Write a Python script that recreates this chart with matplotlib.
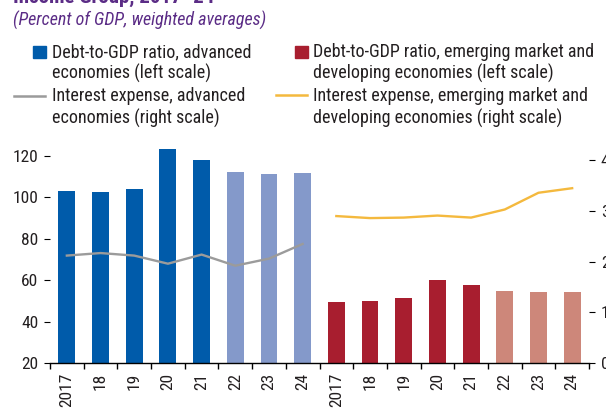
import matplotlib
matplotlib.use("Agg")

import matplotlib.pyplot as plt
from matplotlib.patches import Rectangle
from matplotlib.lines import Line2D
import numpy as np

plt.rcParams["font.family"] = ["Roboto Condensed", "DejaVu Sans"]

years = ["2017", "18", "19", "20", "21", "22", "23", "24"]

debt_adv = [103.1, 102.6, 104.1, 123.4, 118.1, 112.3, 111.3, 111.8]
debt_emde = [49.6, 50.1, 51.5, 60.2, 57.8, 54.9, 54.4, 54.4]
interest_adv = [2.12, 2.17, 2.12, 1.96, 2.14, 1.92, 2.06, 2.35]
interest_emde = [2.90, 2.86, 2.87, 2.91, 2.87, 3.03, 3.36, 3.45]
n_actual = 5  # 2017-21 actual, 2022-24 projections

BLUE = "#005BAA"
BLUE_LT = "#8499CA"
RED = "#A81E2F"
RED_LT = "#CD877A"
GRAY = "#9B9B9B"
YELLOW = "#F4B93E"
PURPLE = "#5B2C86"
TXT = "#231F20"

W, H = 606, 408
fig = plt.figure(figsize=(W / 100, H / 100), dpi=100)


def fx(px):
    return px / W


def fy(py):
    return 1 - py / H


ax = fig.add_axes([fx(50), fy(363), fx(589) - fx(50), fy(135) - fy(363)])
ax2 = ax.twinx()

n = len(years)
x_adv = np.arange(n)
x_emde = np.arange(n) + n

adv_colors = [BLUE if i < n_actual else BLUE_LT for i in range(n)]
emde_colors = [RED if i < n_actual else RED_LT for i in range(n)]

ax.bar(x_adv, debt_adv, width=0.5, color=adv_colors, zorder=2)
ax.bar(x_emde, debt_emde, width=0.5, color=emde_colors, zorder=2)

ax2.plot(x_adv, interest_adv, color=GRAY, lw=1.7, solid_joinstyle="round")
ax2.plot(x_emde, interest_emde, color=YELLOW, lw=1.7, solid_joinstyle="round")

ax.set_xlim(-0.5, 2 * n - 0.5)
ax.set_ylim(20, 130)
ax2.set_ylim(0, 4.5)

ax.set_yticks([20, 40, 60, 80, 100, 120])
ax2.set_yticks([0, 1, 2, 3, 4])

ax.set_xticks(np.arange(2 * n))
ax.set_xticklabels(years + years, rotation=90)
ax.set_xticks(np.arange(-0.5, 2 * n), minor=True)

for a in (ax, ax2):
    for s in ("top", "left", "right"):
        a.spines[s].set_visible(False)
ax2.spines["bottom"].set_visible(False)
ax.spines["bottom"].set_linewidth(1.0)

ax.tick_params(axis="x", which="major", length=0, pad=7, labelsize=12.5, labelcolor=TXT)
ax.tick_params(axis="x", which="minor", length=4.5, width=1.0, direction="out")
ax.tick_params(axis="y", length=4.5, width=0.8, pad=4, labelsize=12.5, labelcolor=TXT)
ax2.tick_params(axis="y", length=4.5, width=0.8, pad=4, labelsize=12.5, labelcolor=TXT)

# title and subtitle
fig.text(fx(13), fy(3), "Income Group, 2017\u201324", fontsize=15, fontweight="bold",
         color=PURPLE, va="baseline", ha="left")
fig.text(fx(13), fy(26), "(Percent of GDP, weighted averages)", fontsize=13,
         style="italic", color=PURPLE, va="baseline", ha="left")

# legend
fs = 13
rows = [
    (52, "Debt-to-GDP ratio, advanced", "Debt-to-GDP ratio, emerging market and"),
    (73, "economies (left scale)", "developing economies (left scale)"),
    (96, "Interest expense, advanced", "Interest expense, emerging market and"),
    (118, "economies (right scale)", "developing economies (right scale)"),
]
for yy, t1, t2 in rows:
    fig.text(fx(52), fy(yy), t1, fontsize=fs, va="center", ha="left", color=TXT)
    fig.text(fx(313), fy(yy), t2, fontsize=fs, va="center", ha="left", color=TXT)

fig.add_artist(Rectangle((fx(33), fy(58)), fx(13), fy(46) - fy(58), color=BLUE,
                         transform=fig.transFigure))
fig.add_artist(Rectangle((fx(295), fy(58)), fx(13), fy(46) - fy(58), color=RED,
                         transform=fig.transFigure))
fig.add_artist(Line2D([fx(14), fx(45)], [fy(96), fy(96)], color=GRAY, lw=1.8,
                      transform=fig.transFigure))
fig.add_artist(Line2D([fx(276), fx(307)], [fy(95), fy(95)], color=YELLOW, lw=1.8,
                      transform=fig.transFigure))

fig.savefig("out.png", dpi=100)
